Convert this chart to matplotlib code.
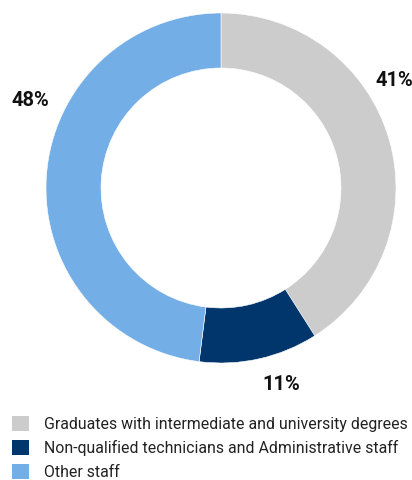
import matplotlib.pyplot as plt
from matplotlib.patches import Patch

plt.rcParams['font.family'] = ['Roboto', 'DejaVu Sans']

# staff breakdown
categories = ['Graduates with intermediate and university degrees',
              'Non-qualified technicians and Administrative staff',
              'Other staff']
shares = [41, 11, 48]
colors = ['#cccccc', '#00366b', '#74aee6']

# label anchor points in pixels (x from left, y from top)
label_pos = [(394, 81), (281, 385), (30, 100)]

fig = plt.figure(figsize=(4.12, 4.80), dpi=100)
ax = fig.add_axes([0, 0, 1, 1])

# ring is drawn on an inverted y axis, so counterclock=True gives clockwise on screen
wedges, _ = ax.pie(shares, colors=colors, startangle=-90, counterclock=True,
                   radius=175, center=(221, 188), frame=True,
                   wedgeprops=dict(width=55, edgecolor='white', linewidth=0.4))
ax.set_xlim(0, 412)
ax.set_ylim(480, 0)
ax.set_aspect('equal')
ax.axis('off')

for v, (x, y) in zip(shares, label_pos):
    ax.text(x, y, f'{v}%', ha='center', va='center', fontsize=14.5,
            fontweight='bold', color='#111111')

handles = [Patch(facecolor=c, edgecolor='none') for c in colors]
fig.legend(handles, categories, loc='upper left', bbox_to_anchor=(0.013, 0.147),
           frameon=False, fontsize=11.4, handlelength=1.07, handleheight=1.07,
           handletextpad=0.95, labelspacing=0.52, borderaxespad=0,
           labelcolor='#222222')

fig.savefig('out.png', dpi=100)
